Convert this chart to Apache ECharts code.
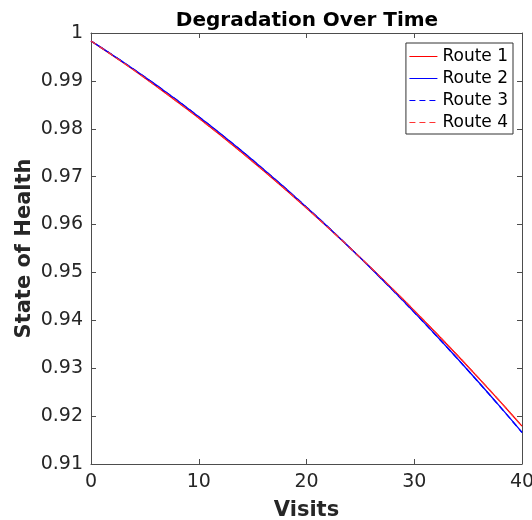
<!DOCTYPE html>
<html>
<head>
<meta charset="utf-8">
<script src="https://cdn.jsdelivr.net/npm/echarts@6/dist/echarts.min.js"></script>
<style>
html,body{margin:0;padding:0;background:#fff;}
#chart{width:532px;height:520px;}
</style>
</head>
<body>
<div id="chart"></div>
<script>
var visits = [0,1,2,3,4,5,6,7,8,9,10,11,12,13,14,15,16,17,18,19,20,21,22,23,24,25,26,27,28,29,30,31,32,33,34,35,36,37,38,39,40];
var route1 = [0.99833,0.99684,0.99532,0.99378,0.99221,0.99061,0.98899,0.98734,0.98566,0.98396,0.98223,0.98047,0.97869,0.97688,0.97504,0.97318,0.97129,0.96937,0.96743,0.96546,0.96346,0.96143,0.95938,0.95731,0.9552,0.95307,0.95092,0.94873,0.94652,0.94429,0.94202,0.93973,0.93742,0.93507,0.9327,0.93031,0.92788,0.92543,0.92296,0.92045,0.91792];
var route2 = [0.99833,0.99689,0.99542,0.99391,0.99238,0.99081,0.98922,0.98759,0.98594,0.98425,0.98253,0.98078,0.979,0.97719,0.97534,0.97347,0.97157,0.96963,0.96767,0.96567,0.96364,0.96158,0.9595,0.95738,0.95522,0.95304,0.95083,0.94859,0.94631,0.94401,0.94167,0.93931,0.93691,0.93448,0.93202,0.92953,0.92701,0.92446,0.92188,0.91926,0.91662];
var route3 = [0.99833,0.99688,0.99541,0.99390,0.99237,0.99080,0.98921,0.98758,0.98593,0.98424,0.98252,0.98077,0.97899,0.97718,0.97533,0.97346,0.97156,0.96962,0.96766,0.96566,0.96363,0.96157,0.95949,0.95737,0.95521,0.95303,0.95082,0.94858,0.94630,0.94400,0.94166,0.93929,0.93689,0.93446,0.93200,0.92951,0.92699,0.92443,0.92185,0.91923,0.91658];
var route4 = [0.99833,0.99685,0.99533,0.99379,0.99222,0.99062,0.98900,0.98735,0.98567,0.98397,0.98224,0.98048,0.97870,0.97689,0.97505,0.97319,0.97130,0.96938,0.96744,0.96547,0.96347,0.96144,0.95939,0.95732,0.95521,0.95308,0.95093,0.94874,0.94653,0.94430,0.94203,0.93974,0.93743,0.93508,0.93271,0.93032,0.92789,0.92544,0.92297,0.92046,0.91793];
var seriesNames = ['Route 1','Route 2','Route 3','Route 4'];
var xTicks = [0,10,20,30,40];
var yTicks = [0.91,0.92,0.93,0.94,0.95,0.96,0.97,0.98,0.99,1];

function pairs(xs, ys){ return xs.map(function(x,i){ return [x, ys[i]]; }); }

var axisColor = '#4d4d4d';
var textColor = '#262626';
var font = 'DejaVu Sans';

var chart = echarts.init(document.getElementById('chart'), null, {renderer:'canvas'});
var option = {
  animation: false,
  backgroundColor: '#ffffff',
  title: {
    text: 'Degradation Over Time',
    left: 302, top: 6, textAlign: 'center',
    textStyle: {fontFamily: font, fontSize: 20, fontWeight: 'bold', color: '#000'}
  },
  legend: {
    orient: 'vertical',
    right: 19, top: 43,
    data: seriesNames,
    itemWidth: 28, itemHeight: 12, itemGap: 5,
    padding: [5, 5, 3, 3],
    borderColor: '#333', borderWidth: 1,
    backgroundColor: '#fff',
    itemStyle: {color: 'rgba(0,0,0,0)', borderWidth: 0, opacity: 0},
    lineStyle: {width: 1},
    textStyle: {fontFamily: font, fontSize: 17, color: '#000', lineHeight: 17}
  },
  grid: {left: 91, right: 10, top: 33, bottom: 56, show: false, outerBoundsMode: 'none', containLabel: false},
  xAxis: [{
    type: 'value', min: 0, max: 40, interval: 10,
    name: 'Visits', nameLocation: 'middle', nameGap: 36,
    nameTextStyle: {fontFamily: font, fontSize: 21, fontWeight: 'bold', color: textColor},
    axisLine: {show: true, onZero: false, lineStyle: {color: axisColor, width: 1}},
    axisTick: {show: true, inside: true, length: 5, lineStyle: {color: axisColor}},
    axisLabel: {fontFamily: font, fontSize: 19, color: textColor, margin: 9, showMaxLabel: true, showMinLabel: true, hideOverlap: false},
    splitLine: {show: false}
  },{
    type: 'value', min: 0, max: 40, interval: 10, position: 'top',
    axisLine: {show: true, onZero: false, lineStyle: {color: axisColor, width: 1}},
    axisTick: {show: true, inside: true, length: 5, lineStyle: {color: axisColor}},
    axisLabel: {show: false}, splitLine: {show: false}
  }],
  yAxis: [{
    type: 'value', min: 0.91, max: 1, interval: 0.01,
    name: 'State of Health', nameLocation: 'middle', nameGap: 56, nameRotate: 90,
    nameMoveOverlap: false,
    nameTextStyle: {fontFamily: font, fontSize: 21, fontWeight: 'bold', color: textColor},
    axisLine: {show: true, onZero: false, lineStyle: {color: axisColor, width: 1}},
    axisTick: {show: true, inside: true, length: 5, lineStyle: {color: axisColor}},
    axisLabel: {fontFamily: font, fontSize: 19, color: textColor, margin: 8,
      formatter: function(v){ return String(+v.toFixed(2)); }},
    splitLine: {show: false}
  },{
    type: 'value', min: 0.91, max: 1, interval: 0.01, position: 'right',
    axisLine: {show: true, onZero: false, lineStyle: {color: axisColor, width: 1}},
    axisTick: {show: true, inside: true, length: 5, lineStyle: {color: axisColor}},
    axisLabel: {show: false}, splitLine: {show: false}
  }],
  series: [
    {name: 'Route 1', type: 'line', data: pairs(visits, route1), symbol: 'none', showSymbol: false,
      lineStyle: {color: '#ff0000', width: 1.3, type: 'solid'}, itemStyle: {color: '#ff0000'}},
    {name: 'Route 2', type: 'line', data: pairs(visits, route2), symbol: 'none', showSymbol: false,
      lineStyle: {color: '#0000ff', width: 1.3, type: 'solid'}, itemStyle: {color: '#0000ff'}},
    {name: 'Route 3', type: 'line', data: pairs(visits, route3), symbol: 'none', showSymbol: false,
      lineStyle: {color: '#0000ff', width: 1.3, type: [6, 4]}, itemStyle: {color: '#0000ff'}},
    {name: 'Route 4', type: 'line', data: pairs(visits, route4), symbol: 'none', showSymbol: false,
      lineStyle: {color: '#ff3333', width: 1.3, type: [6, 4]}, itemStyle: {color: '#ff3333'}}
  ]
};
chart.setOption(option);
</script>
</body>
</html>
